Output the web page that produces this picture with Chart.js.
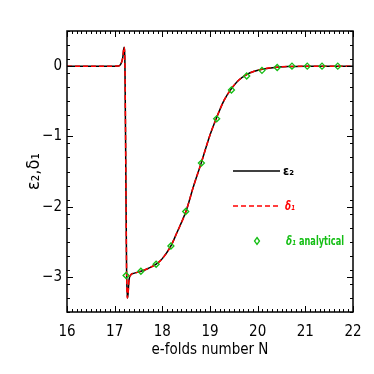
<!DOCTYPE html>
<html>
<head>
<meta charset="utf-8">
<script src="https://cdn.jsdelivr.net/npm/chart.js@4"></script>
<style>
  html, body { margin: 0; padding: 0; background: #fff; }
  #wrap { width: 374px; height: 374px; }
</style>
</head>
<body>
<div id="wrap"><canvas id="chart" width="374" height="374"></canvas></div>
<script>
// e-folds number N
const nCurve = [16.0, 17.0, 17.08, 17.13, 17.17, 17.196, 17.215, 17.235, 17.25, 17.265, 17.28, 17.30, 17.34, 17.40,
                17.55, 17.70, 17.87, 18.0, 18.18, 18.3, 18.5, 18.65, 18.82, 19.0, 19.14, 19.3, 19.45, 19.6,
                19.77, 19.9, 20.09, 20.4, 20.7, 21.0, 22.0];
const eps2 = [0, 0, 0.002, 0.03, 0.12, 0.27, 0.05, -1.6, -2.9, -3.3, -3.25, -3.05, -2.97, -2.95,
              -2.92, -2.88, -2.82, -2.74, -2.56, -2.38, -2.06, -1.72, -1.37, -0.98, -0.73, -0.48, -0.32, -0.2,
              -0.12, -0.08, -0.045, -0.015, -0.005, 0, 0];
const delta1 = [0, 0, 0.002, 0.03, 0.12, 0.27, 0.05, -1.6, -2.9, -3.3, -3.25, -3.05, -2.97, -2.95,
                -2.92, -2.88, -2.82, -2.74, -2.56, -2.38, -2.06, -1.72, -1.37, -0.98, -0.73, -0.48, -0.32, -0.2,
                -0.12, -0.08, -0.045, -0.015, -0.005, 0, 0];

// analytical points (diamonds)
const nAnalytic = [17.24, 17.55, 17.87, 18.18, 18.49, 18.82, 19.14, 19.45, 19.77, 20.09, 20.41, 20.72, 21.04, 21.35, 21.68];
const delta1Analytic = [-2.98, -2.92, -2.82, -2.56, -2.07, -1.38, -0.75, -0.34, -0.14, -0.06, -0.02, 0, 0, 0, 0];

const xTicks = [16, 17, 18, 19, 20, 21, 22];
const yTicks = [-3, -2, -1, 0];

const GREEN = 'rgb(20,190,20)';
const RED = 'rgb(255,0,0)';
const FONT = '"Liberation Sans Narrow", "DejaVu Sans Condensed", sans-serif';

// inward ticks on all four sides + frame
const frameTicks = {
  id: 'frameTicks',
  afterDraw(chart) {
    const { ctx, chartArea: a, scales: { x, y } } = chart;
    ctx.save();
    ctx.strokeStyle = '#000';
    ctx.lineWidth = 1;
    ctx.beginPath();
    for (let i = 160; i <= 220; i++) {
      const px = Math.round(x.getPixelForValue(i / 10)) + 0.5;
      const len = i % 10 === 0 ? 6 : 3;
      ctx.moveTo(px, a.bottom); ctx.lineTo(px, a.bottom - len);
      ctx.moveTo(px, a.top); ctx.lineTo(px, a.top + len);
    }
    for (let i = -35; i <= 5; i += 2) {
      const py = Math.round(y.getPixelForValue(i / 10)) + 0.5;
      ctx.moveTo(a.left, py); ctx.lineTo(a.left + 3, py);
      ctx.moveTo(a.right, py); ctx.lineTo(a.right - 3, py);
    }
    yTicks.forEach(v => {
      const py = Math.round(y.getPixelForValue(v)) + 0.5;
      ctx.moveTo(a.left, py); ctx.lineTo(a.left + 6, py);
      ctx.moveTo(a.right, py); ctx.lineTo(a.right - 6, py);
    });
    ctx.stroke();
    ctx.lineWidth = 1.5;
    ctx.strokeRect(a.left, a.top, a.right - a.left, a.bottom - a.top);
    ctx.restore();
  }
};

// squeeze a label into a given width, IDL fonts are narrow
function narrowText(ctx, txt, x, y, w) {
  const m = ctx.measureText(txt).width;
  const k = Math.min(1, w / m);
  ctx.save();
  ctx.translate(x, y);
  ctx.scale(k, 1);
  ctx.fillText(txt, 0, 0);
  ctx.restore();
}

// legend drawn inside the plot, like the original
const innerLegend = {
  id: 'innerLegend',
  afterDatasetsDraw(chart) {
    const { ctx, chartArea: a } = chart;
    const x0 = a.left + 166, x1 = a.left + 213;
    const rows = [a.top + 140, a.top + 175, a.top + 210];
    ctx.save();
    ctx.lineWidth = 1.5;
    ctx.strokeStyle = '#000';
    ctx.beginPath(); ctx.moveTo(x0, rows[0]); ctx.lineTo(x1, rows[0]); ctx.stroke();
    ctx.strokeStyle = RED;
    ctx.setLineDash([5, 3]);
    ctx.beginPath(); ctx.moveTo(x0, rows[1]); ctx.lineTo(x1, rows[1]); ctx.stroke();
    ctx.setLineDash([]);
    ctx.strokeStyle = GREEN;
    ctx.lineWidth = 1.3;
    const dx = a.left + 190, dy = rows[2];
    ctx.beginPath();
    ctx.moveTo(dx, dy - 3.5); ctx.lineTo(dx + 2.5, dy); ctx.lineTo(dx, dy + 3.5); ctx.lineTo(dx - 2.5, dy); ctx.closePath();
    ctx.stroke();

    ctx.font = 'bold 13px ' + FONT;
    ctx.textBaseline = 'middle';
    ctx.fillStyle = '#000';
    narrowText(ctx, 'ε₂', x1 + 3, rows[0] + 1, 11);
    ctx.fillStyle = RED;
    ctx.font = 'bold italic 13px ' + FONT;
    narrowText(ctx, 'δ₁', x1 + 5, rows[1] + 1, 10);
    ctx.fillStyle = GREEN;
    narrowText(ctx, 'δ₁', a.left + 219, rows[2] + 1, 10);
    ctx.font = 'bold 13px ' + FONT;
    narrowText(ctx, 'analytical', a.left + 232, rows[2] + 1, 45);
    ctx.restore();
  }
};

new Chart(document.getElementById('chart'), {
  type: 'line',
  data: {
    datasets: [
      {
        label: 'ε₂',
        data: nCurve.map((n, i) => ({ x: n, y: eps2[i] })),
        borderColor: '#000',
        borderWidth: 1.5,
        pointRadius: 0,
        cubicInterpolationMode: 'monotone',
        order: 3
      },
      {
        label: 'δ₁',
        data: nCurve.map((n, i) => ({ x: n, y: delta1[i] })),
        borderColor: RED,
        borderWidth: 1.5,
        borderDash: [5, 3],
        pointRadius: 0,
        cubicInterpolationMode: 'monotone',
        order: 2
      },
      {
        label: 'δ₁ analytical',
        data: nAnalytic.map((n, i) => ({ x: n, y: delta1Analytic[i] })),
        showLine: false,
        pointStyle: 'rectRot',
        pointRadius: 3,
        pointBorderWidth: 1.3,
        pointBorderColor: GREEN,
        pointBackgroundColor: 'rgba(0,0,0,0)',
        order: 1
      }
    ]
  },
  options: {
    responsive: false,
    animation: false,
    layout: { padding: { top: 31, right: 21, left: 0, bottom: 0 } },
    plugins: { legend: { display: false }, tooltip: { enabled: false } },
    scales: {
      x: {
        type: 'linear', min: 16, max: 22,
        grid: { display: false, drawTicks: false },
        border: { display: false },
        afterBuildTicks: s => { s.ticks = xTicks.map(v => ({ value: v })); },
        afterFit: s => { s.height = 62; },
        ticks: { color: '#000', padding: 11, font: { family: FONT, size: 15 } },
        title: { display: true, text: 'e-folds number N', color: '#000', padding: { bottom: 15 }, font: { family: FONT, size: 15 } }
      },
      y: {
        type: 'linear', min: -3.5, max: 0.5,
        grid: { display: false, drawTicks: false },
        border: { display: false },
        afterBuildTicks: s => { s.ticks = yTicks.map(v => ({ value: v })); },
        afterFit: s => { s.width = 67; },
        ticks: { color: '#000', padding: 5, font: { family: FONT, size: 15 },
                 callback: v => String(v).replace('-', '−') },
        title: { display: true, text: 'ε₂,δ₁', color: '#000', padding: { top: 24 }, font: { family: FONT, size: 18 } }
      }
    }
  },
  plugins: [frameTicks, innerLegend]
});
</script>
</body>
</html>
